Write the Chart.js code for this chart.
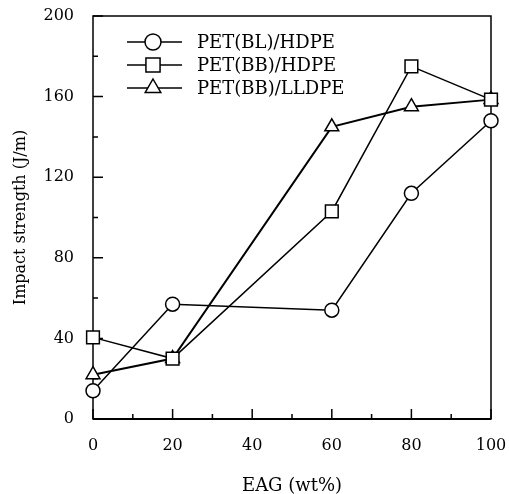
<!DOCTYPE html>
<html>
<head>
<meta charset="utf-8">
<script src="https://cdn.jsdelivr.net/npm/chart.js@4.4.1/dist/chart.umd.min.js"></script>
<style>
html, body { margin: 0; padding: 0; background: #fff; }
</style>
</head>
<body>
<canvas id="plot" width="509" height="494"></canvas>
<script>
// EAG content (wt%)
var eag = [0, 20, 60, 80, 100];
// impact strength (J/m)
var blHdpe = [14, 57, 54, 112, 148];
var bbHdpe = [40.5, 30, 103, 175, 158.5];
var bbLldpe = [22, 30, 145, 155, 158.5];
var seriesNames = ['PET(BL)/HDPE', 'PET(BB)/HDPE', 'PET(BB)/LLDPE'];
var markers = ['circle', 'rect', 'triangle'];
var markerSizes = [7, 9, 8];

var serif = 'DejaVu Serif';

function pts(vals) {
    return vals.map(function (v, i) { return { x: eag[i], y: v }; });
}

function marker(c, style, x, y, r) {
    c.beginPath();
    if (style === 'circle') {
        c.arc(x, y, r, 0, Math.PI * 2);
    } else if (style === 'rect') {
        var s = Math.SQRT1_2 * r;
        c.rect(x - s, y - s, 2 * s, 2 * s);
    } else {
        c.moveTo(x, y - r);
        c.lineTo(x + r * 0.866, y + r * 0.5);
        c.lineTo(x - r * 0.866, y + r * 0.5);
        c.closePath();
    }
    c.fill();
    c.stroke();
}

// frame + inward ticks
var framePlugin = {
    id: 'frame',
    beforeDatasetsDraw: function (chart) {
        var c = chart.ctx, a = chart.chartArea;
        var xs = chart.scales.x, ys = chart.scales.y;
        c.save();
        c.strokeStyle = '#000';
        c.lineWidth = 1.5;
        c.strokeRect(a.left, a.top, a.right - a.left, a.bottom - a.top);
        c.lineWidth = 2;
        c.beginPath();
        c.moveTo(a.left, a.bottom);
        c.lineTo(a.right, a.bottom);
        c.stroke();
        c.lineWidth = 1.5;
        c.beginPath();
        xs.ticks.forEach(function (t) {
            var px = xs.getPixelForValue(t.value);
            var len = t.value % 20 === 0 ? 10 : 5;
            c.moveTo(px, a.bottom);
            c.lineTo(px, a.bottom - len);
        });
        ys.ticks.forEach(function (t) {
            var py = ys.getPixelForValue(t.value);
            var len = t.value % 40 === 0 ? 10 : 5;
            c.moveTo(a.left, py);
            c.lineTo(a.left + len, py);
        });
        c.stroke();
        c.restore();
    }
};

// legend with line + marker inside plot
var legendPlugin = {
    id: 'inlegend',
    afterDraw: function (chart) {
        var c = chart.ctx;
        c.save();
        c.strokeStyle = '#000';
        c.fillStyle = '#fff';
        c.lineWidth = 1.5;
        c.font = '18px "' + serif + '"';
        c.textBaseline = 'middle';
        seriesNames.forEach(function (name, i) {
            var y = 42 + i * 23;
            c.beginPath();
            c.moveTo(127, y);
            c.lineTo(182, y);
            c.stroke();
            marker(c, markers[i], 153, y, markerSizes[i] + 1);
            c.fillStyle = '#000';
            c.fillText(name, 197, y + 1);
            c.fillStyle = '#fff';
        });
        c.restore();
    }
};

function ds(label, vals, i, w) {
    return {
        label: label,
        data: pts(vals),
        borderColor: '#000',
        backgroundColor: '#fff',
        borderWidth: w,
        pointStyle: markers[i],
        pointRadius: markerSizes[i],
        pointBorderWidth: 1.5,
        pointBackgroundColor: '#fff',
        pointBorderColor: '#000',
        tension: 0,
        clip: false
    };
}

new Chart(document.getElementById('plot'), {
    type: 'line',
    data: {
        datasets: [
            ds(seriesNames[0], blHdpe, 0, 1.5),
            ds(seriesNames[1], bbHdpe, 1, 1.5),
            ds(seriesNames[2], bbLldpe, 2, 2)
        ]
    },
    options: {
        responsive: false,
        animation: false,
        layout: { padding: { top: 16, right: 18, left: 0, bottom: 0 } },
        plugins: {
            legend: { display: false },
            tooltip: { enabled: false }
        },
        scales: {
            x: {
                type: 'linear',
                min: 0,
                max: 100,
                grid: { display: false },
                border: { display: false },
                afterFit: function (s) {
                    s.height = 75;
                    s.paddingLeft = 0;
                    s.paddingRight = 0;
                },
                ticks: {
                    stepSize: 10,
                    padding: 9,
                    color: '#000',
                    maxRotation: 0,
                    autoSkip: false,
                    font: { family: serif, size: 16 },
                    callback: function (v) { return v % 20 === 0 ? v : ''; }
                },
                title: {
                    display: true,
                    text: 'EAG (wt%)',
                    color: '#000',
                    font: { family: serif, size: 18, lineHeight: 1 },
                    padding: { top: 0, bottom: -1 }
                }
            },
            y: {
                min: 0,
                max: 200,
                grid: { display: false },
                border: { display: false },
                afterFit: function (s) {
                    s.width = 93;
                    s.paddingTop = 0;
                    s.paddingBottom = 0;
                },
                ticks: {
                    stepSize: 20,
                    padding: 11,
                    color: '#000',
                    autoSkip: false,
                    font: { family: serif, size: 16 },
                    callback: function (v) { return v % 40 === 0 ? v : ''; }
                },
                title: {
                    display: true,
                    text: 'Impact strength (J/m)',
                    color: '#000',
                    font: { family: serif, size: 16, lineHeight: 1.2 },
                    padding: { top: 11, bottom: 0 }
                }
            }
        }
    },
    plugins: [framePlugin, legendPlugin]
});
</script>
</body>
</html>
